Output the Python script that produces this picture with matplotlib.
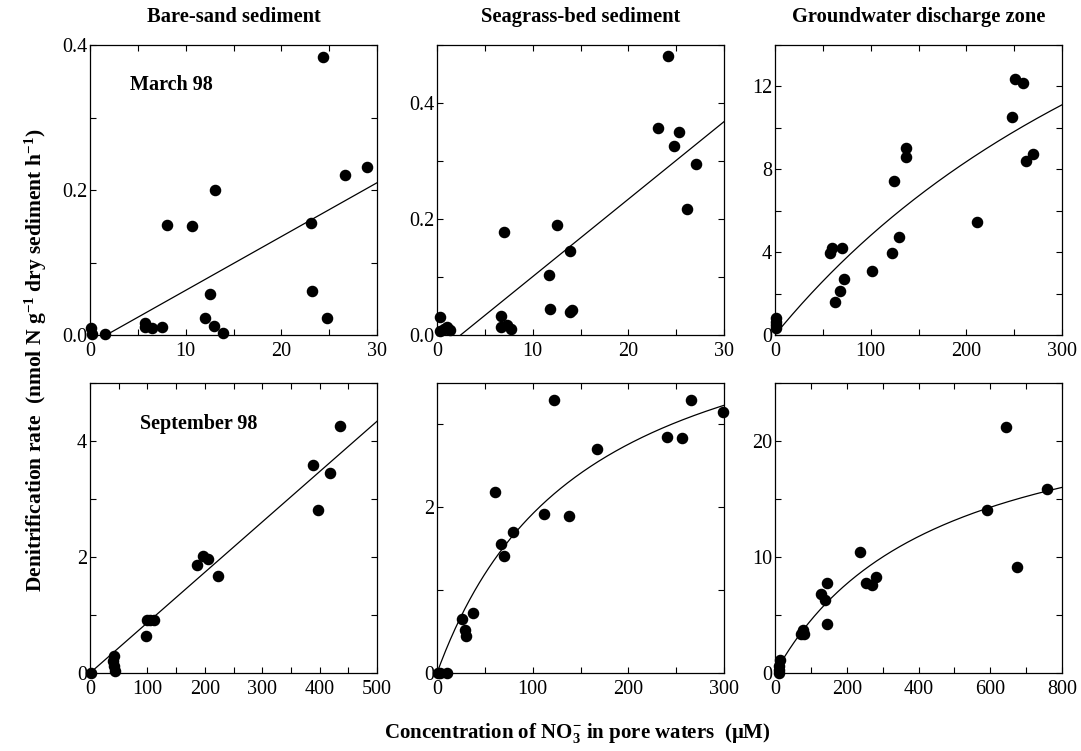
import numpy as np
import matplotlib
matplotlib.use("Agg")
import matplotlib.pyplot as plt
from matplotlib.ticker import MultipleLocator, FormatStrFormatter

plt.rcParams['font.family'] = ['Liberation Serif', 'DejaVu Serif']
plt.rcParams['mathtext.fontset'] = 'custom'
plt.rcParams['mathtext.rm'] = 'Liberation Serif'
plt.rcParams['mathtext.bf'] = 'Liberation Serif:bold'
plt.rcParams['mathtext.it'] = 'Liberation Serif:italic'
plt.rcParams['mathtext.default'] = 'bf'

# ---------------- data ----------------
titles = ["Bare-sand sediment", "Seagrass-bed sediment", "Groundwater discharge zone"]
season_labels = ["March 98", "September 98"]

# March 98, bare sand
mar_sand_x = [0.07, 0.24, 1.6, 5.76, 5.76, 6.5, 7.5, 8.05, 10.65, 13.1, 12.0, 12.5, 13.0, 13.9,
              23.1, 23.2, 24.4, 24.8, 26.7, 29.0]
mar_sand_y = [0.009, 0.001, 0.002, 0.017, 0.011, 0.009, 0.011, 0.152, 0.151, 0.200, 0.024, 0.057,
              0.012, 0.003, 0.155, 0.061, 0.384, 0.024, 0.221, 0.232]
# March 98, seagrass bed
mar_grass_x = [0.28, 0.28, 0.7, 1.06, 1.4, 6.64, 6.7, 6.99, 7.34, 7.77, 11.72, 11.79, 12.57, 13.9,
               14.08, 13.95, 23.08, 24.1, 24.8, 25.27, 26.1, 27.1]
mar_grass_y = [0.031, 0.0075, 0.01, 0.014, 0.009, 0.033, 0.013, 0.178, 0.018, 0.010, 0.103, 0.045,
               0.189, 0.145, 0.043, 0.040, 0.357, 0.481, 0.326, 0.350, 0.218, 0.294]
# March 98, groundwater discharge
mar_gw_x = [1.0, 1.0, 1.0, 1.0, 57.9, 59.7, 62.8, 68.3, 70.1, 71.8, 101.6, 122.4, 124.2, 129.4,
            137.4, 137.4, 211.6, 248.0, 250.4, 258.8, 262.6, 269.2]
mar_gw_y = [0.84, 0.64, 0.48, 0.32, 3.94, 4.22, 1.61, 2.14, 4.22, 2.70, 3.11, 3.96, 7.42, 4.75,
            9.03, 8.61, 5.46, 10.52, 12.34, 12.15, 8.38, 8.74]
# September 98, bare sand
sep_sand_x = [1.0, 41.0, 40.0, 42.0, 43.5, 97.0, 98.5, 104.9, 111.8, 187.0, 196.0, 205.7, 223.0,
              389.0, 397.0, 417.7, 435.0]
sep_sand_y = [0.0, 0.30, 0.20, 0.12, 0.04, 0.63, 0.91, 0.91, 0.92, 1.87, 2.02, 1.97, 1.68,
              3.58, 2.81, 3.44, 4.26]
# September 98, seagrass bed
sep_grass_x = [0.7, 3.5, 10.6, 26.1, 29.3, 30.4, 38.1, 60.4, 66.4, 69.9, 79.4, 111.9, 122.8, 138.0,
               167.0, 240.4, 256.6, 265.4, 299.3]
sep_grass_y = [0.0, 0.0, 0.0, 0.657, 0.524, 0.448, 0.726, 2.18, 1.556, 1.415, 1.706, 1.919, 3.29,
               1.90, 2.70, 2.85, 2.835, 3.30, 3.15]
# September 98, groundwater discharge
sep_gw_x = [12.0, 12.0, 12.0, 13.0, 72.3, 76.9, 81.6, 127.9, 140.0, 144.6, 144.6, 238.2, 253.0,
            271.5, 280.8, 592.2, 645.0, 674.7, 758.0]
sep_gw_y = [0.0, 0.29, 0.58, 1.09, 3.37, 3.74, 3.37, 6.83, 6.31, 7.72, 4.26, 10.45, 7.78, 7.55,
            8.29, 14.03, 21.17, 9.13, 15.87]

# fitted relationships (as drawn in the figure)
mar_sand_fit = (0.00742, 1.7)     # slope, x-intercept
mar_grass_fit = (0.01336, 2.47)   # slope, x-intercept
sep_sand_fit = (0.00868, 0.0)     # slope, x-intercept
mar_gw_fit = (32.3, 572.0)        # Vmax, K
sep_grass_fit = (4.9, 155.0)      # Vmax, K
sep_gw_fit = (25.0, 450.0)        # Vmax, K

# axis settings: xmax, xmajor, xminor, ymax, ymajor, yminor, yfmt
axis_cfg = [
    [(30, 10, 5, 0.4, 0.2, 0.1, '%.1f'), (30, 10, 5, 0.5, 0.2, 0.1, '%.1f'), (300, 100, 50, 14, 4, 2, '%d')],
    [(500, 100, 50, 5, 2, 1, '%d'), (300, 100, 50, 3.5, 2, 1, '%d'), (800, 200, 100, 25, 10, 5, '%d')],
]

panels = [
    [(mar_sand_x, mar_sand_y, 'lin', mar_sand_fit), (mar_grass_x, mar_grass_y, 'lin', mar_grass_fit),
     (mar_gw_x, mar_gw_y, 'mm', mar_gw_fit)],
    [(sep_sand_x, sep_sand_y, 'lin', sep_sand_fit), (sep_grass_x, sep_grass_y, 'mm', sep_grass_fit),
     (sep_gw_x, sep_gw_y, 'mm', sep_gw_fit)],
]

# ---------------- figure ----------------
W, H = 1081, 751
fig = plt.figure(figsize=(W / 100, H / 100), dpi=100)

lefts = [90, 437, 775]
width = 287
tops = [45, 383]
height = 290

for r in range(2):
    for c in range(3):
        ax = fig.add_axes([lefts[c] / W, (H - tops[r] - height) / H, width / W, height / H])
        xs, ys, kind, par = panels[r][c]
        xmax, xmaj, xmin_, ymax, ymaj, ymin_, yfmt = axis_cfg[r][c]
        ax.plot(xs, ys, 'o', color='black', markersize=7.3, zorder=3, clip_on=False)
        if kind == 'lin':
            slope, x0 = par
            xx = np.linspace(x0, xmax, 50)
            yy = slope * (xx - x0)
        else:
            V, K = par
            xx = np.linspace(0, xmax, 300)
            yy = V * xx / (K + xx)
        ax.plot(xx, yy, '-', color='black', linewidth=0.9, zorder=2)
        ax.set_xlim(0, xmax)
        ax.set_ylim(0, ymax)
        ax.xaxis.set_major_locator(MultipleLocator(xmaj))
        ax.xaxis.set_minor_locator(MultipleLocator(xmin_))
        ax.yaxis.set_major_locator(MultipleLocator(ymaj))
        ax.yaxis.set_minor_locator(MultipleLocator(ymin_))
        ax.yaxis.set_major_formatter(FormatStrFormatter(yfmt))
        ax.tick_params(which='both', direction='in', top=True, right=True, length=4.5, width=0.8,
                       labelsize=14.5)
        ax.tick_params(axis='x', pad=5)
        ax.tick_params(axis='y', pad=2)
        for s in ax.spines.values():
            s.set_linewidth(0.9)
        if c == 0:
            ax.text([40 / width, 50 / width][r], [0.862, 0.859][r], season_labels[r],
                    transform=ax.transAxes, fontsize=14.5, fontweight='bold', va='center', ha='left')

for c in range(3):
    fig.text((lefts[c] + width / 2) / W, 1 - 17 / H, titles[c], fontsize=14.8, fontweight='bold',
             ha='center', va='center')

fig.text(36 / W, 1 - 360 / H, r'Denitrification rate  (nmol N g$^{\mathbf{-1}}$ dry sediment h$^{\mathbf{-1}}$)',
         rotation=90, fontsize=15.5, fontweight='bold', ha='center', va='center')
fig.text(577 / W, 1 - 733 / H, r'Concentration of NO$_{\mathbf{3}}^{\mathbf{-}}$ in pore waters  ($\mathbf{\mu}$M)',
         fontsize=15, fontweight='bold', ha='center', va='center')

fig.savefig('out.png', dpi=100)
